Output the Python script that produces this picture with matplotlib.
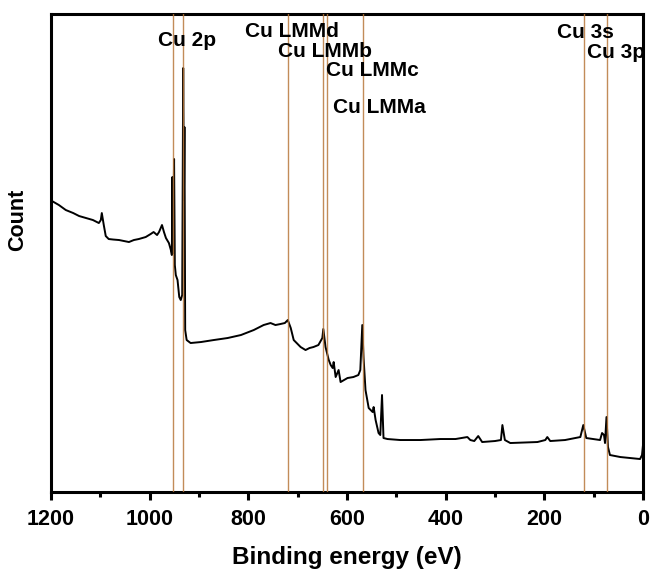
import matplotlib
matplotlib.use("Agg")
import matplotlib.pyplot as plt
import matplotlib.transforms as mtransforms
from matplotlib.ticker import MultipleLocator

plt.rcParams['font.family'] = ['Liberation Sans', 'DejaVu Sans']
plt.rcParams['font.weight'] = 'bold'

# Binding energy (eV) and intensity (arb. counts)
energy = [1198, 1184, 1170, 1155, 1143, 1129, 1115, 1103, 1099, 1097, 1093, 1089,
          1083, 1074, 1062, 1052, 1042, 1032, 1022, 1008, 998, 992, 985, 981, 975,
          971, 967, 961, 957, 955, 954, 952.5, 950.5, 949, 947, 943.5, 940, 937,
          934, 932, 930.5, 929.5, 928, 925, 917, 896, 870, 842, 815, 789, 769, 755,
          745, 735, 726, 720, 714, 708, 694, 684, 676, 668, 658, 650, 648, 643.5,
          637, 633, 629, 627, 623, 617, 613, 599, 587, 577, 573, 569, 566.5, 562.5,
          556, 548, 546, 542, 536, 532.5, 529, 526, 518, 492, 451, 411, 380, 356,
          350, 342, 334, 326, 300, 288, 285, 280, 269, 214, 198, 194, 188, 158, 127,
          121, 115, 87, 83, 79, 77, 74, 71, 67, 46, 26, 6, 2, 0]
counts = [291, 287, 282, 279, 276, 274, 272, 269, 272, 279, 267, 256,
          253, 252.5, 252, 251, 250, 252, 253, 255, 258, 260, 257, 260, 267,
          260, 254, 249, 242, 237, 315, 239, 333, 227, 217, 212, 195, 192,
          197, 424, 292, 365, 162, 152, 149, 150, 152, 154, 157, 162, 167, 169,
          167, 168, 169, 172, 164, 152, 145, 142, 144, 145, 147, 154, 163, 145,
          132, 127, 124, 130, 115, 122, 110, 114, 115, 117, 122, 167, 135, 102,
          84, 80, 85, 72, 59, 57, 97, 54, 53, 52, 52, 53, 53, 55,
          52, 51, 56, 50, 51, 52, 67, 52, 49, 50, 52, 55, 51, 52, 55,
          67, 54, 52, 59, 57, 49, 75, 45, 37, 35, 34, 33, 37, 47]

peak_pos = [952, 932, 720, 648, 641.5, 568, 120, 72]

label_text = ['Cu 2p', 'Cu LMMd', 'Cu LMMb', 'Cu LMMc', 'Cu LMMa', 'Cu 3s', 'Cu 3p']
label_x = [983, 807, 740, 642.6, 628.4, 174, 113.5]
label_y = [0.9456, 0.9644, 0.9226, 0.8828, 0.8054, 0.9623, 0.9205]

fig = plt.figure(figsize=(6.52, 5.75), dpi=100)
ax = fig.add_axes([0.0782, 0.1443, 0.908, 0.8313])

ax.plot(energy, counts, color='black', lw=1.4, zorder=2)
for p in peak_pos:
    ax.axvline(p, color='#B8783C', lw=1.0, alpha=0.85, zorder=3)

trans = mtransforms.blended_transform_factory(ax.transData, ax.transAxes)
for t, x, y in zip(label_text, label_x, label_y):
    ax.text(x, y, t, transform=trans, ha='left', va='center',
            fontsize=15, fontweight='bold', zorder=4)

ax.set_xlim(1200, 0)
ax.set_ylim(0, 478)
ax.xaxis.set_major_locator(MultipleLocator(200))
ax.xaxis.set_minor_locator(MultipleLocator(100))
ax.set_yticks([])
ax.tick_params(axis='x', which='major', direction='out', length=6, width=2.2,
               labelsize=15.5, pad=6)
ax.tick_params(axis='x', which='minor', direction='out', length=3.5, width=2.2)
for lab in ax.get_xticklabels():
    lab.set_fontweight('bold')
for s in ax.spines.values():
    s.set_linewidth(2.2)

ax.set_xlabel('Binding energy (eV)', fontsize=17.5, fontweight='bold', labelpad=12)
ax.set_ylabel('Count', fontsize=15.5, fontweight='bold')
ax.yaxis.set_label_coords(-0.039, 0.57)

fig.savefig('out.png', dpi=100)
